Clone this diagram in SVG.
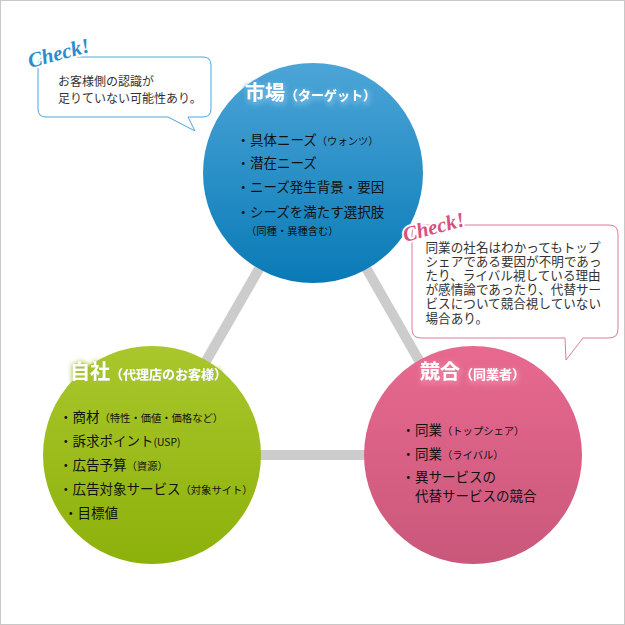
<svg xmlns="http://www.w3.org/2000/svg" width="625" height="625" viewBox="0 0 625 625">
<style>
.jp{font-family:"Noto Sans CJK JP","Noto Sans",sans-serif;}
.title{fill:#fff;font-weight:bold;}
.big{font-size:20px;}
.mid{font-size:13px;}
.item{fill:#111;font-size:13.5px;}
.sm{font-size:10.3px;}
.bub{fill:#333;}
.check{font-family:"Liberation Serif","DejaVu Serif",serif;font-style:italic;font-weight:bold;font-size:21px;stroke:#fff;stroke-width:4px;stroke-linejoin:round;paint-order:stroke;}
.conn{stroke:#cccccc;stroke-width:10;fill:none;}
</style>
<defs>
<linearGradient id="gBlue" x1="0" y1="0" x2="0" y2="1">
<stop offset="0" stop-color="#4ca5d7"/><stop offset="1" stop-color="#097ab6"/>
</linearGradient>
<linearGradient id="gGreen" x1="0" y1="0" x2="0" y2="1">
<stop offset="0" stop-color="#a9c72c"/><stop offset="1" stop-color="#8db10b"/>
</linearGradient>
<linearGradient id="gPink" x1="0" y1="0" x2="0" y2="1">
<stop offset="0" stop-color="#e8698f"/><stop offset="1" stop-color="#c9587b"/>
</linearGradient>
<filter id="glowB" filterUnits="userSpaceOnUse" x="0" y="0" width="625" height="625">
<feMorphology in="SourceAlpha" operator="dilate" radius="1.5" result="d"/>
<feGaussianBlur in="d" stdDeviation="2" result="b"/>
<feOffset in="b" dx="1" dy="1.5" result="o"/>
<feFlood flood-color="#5fb0de" flood-opacity="0.95"/>
<feComposite in2="o" operator="in" result="halo"/>
<feMerge><feMergeNode in="halo"/><feMergeNode in="SourceGraphic"/></feMerge>
</filter>
<filter id="glowG" filterUnits="userSpaceOnUse" x="0" y="0" width="625" height="625">
<feMorphology in="SourceAlpha" operator="dilate" radius="1.5" result="d"/>
<feGaussianBlur in="d" stdDeviation="2" result="b"/>
<feOffset in="b" dx="1" dy="1.5" result="o"/>
<feFlood flood-color="#a6c42a" flood-opacity="0.95"/>
<feComposite in2="o" operator="in" result="halo"/>
<feMerge><feMergeNode in="halo"/><feMergeNode in="SourceGraphic"/></feMerge>
</filter>
<filter id="glowP" filterUnits="userSpaceOnUse" x="0" y="0" width="625" height="625">
<feMorphology in="SourceAlpha" operator="dilate" radius="1.5" result="d"/>
<feGaussianBlur in="d" stdDeviation="2" result="b"/>
<feOffset in="b" dx="1" dy="1.5" result="o"/>
<feFlood flood-color="#ec7b9e" flood-opacity="0.95"/>
<feComposite in2="o" operator="in" result="halo"/>
<feMerge><feMergeNode in="halo"/><feMergeNode in="SourceGraphic"/></feMerge>
</filter>
</defs>
<rect x="0.5" y="0.5" width="624" height="624" fill="#fff" stroke="#c8c8c8" stroke-width="1"/>

<g id="connectors">
<line class="conn" x1="313" y1="175" x2="152" y2="455"/>
<line class="conn" x1="313" y1="175" x2="473" y2="455"/>
<line class="conn" x1="152" y1="455" x2="473" y2="455"/>
</g>

<g id="market">
<circle cx="313" cy="173" r="110" fill="url(#gBlue)"/>
<text class="jp title" filter="url(#glowB)" x="245" y="100"><tspan class="big">市場</tspan><tspan class="mid">（ターゲット）</tspan></text>
<text class="jp item" x="236.5" y="145">・具体ニーズ<tspan class="sm">（ウォンツ）</tspan></text>
<text class="jp item" x="236.5" y="168">・潜在ニーズ</text>
<text class="jp item" x="236.5" y="192">・ニーズ発生背景・要因</text>
<text class="jp item" x="236.5" y="217">・シーズを満たす選択肢</text>
<text class="jp item sm" x="246" y="235">（同種・異種含む）</text>
</g>

<g id="self">
<circle cx="152" cy="455" r="109" fill="url(#gGreen)"/>
<text class="jp title" filter="url(#glowG)" x="70" y="379"><tspan class="big">自社</tspan><tspan class="mid">（代理店のお客様）</tspan></text>
<text class="jp item" x="59" y="422">・商材<tspan class="sm">（特性・価値・価格など）</tspan></text>
<text class="jp item" x="59" y="446">・訴求ポイント<tspan class="sm">(USP)</tspan></text>
<text class="jp item" x="59" y="470">・広告予算<tspan class="sm">（資源）</tspan></text>
<text class="jp item" x="59" y="494">・広告対象サービス<tspan class="sm">（対象サイト）</tspan></text>
<text class="jp item" x="64" y="518">・目標値</text>
</g>

<g id="competitor">
<circle cx="473" cy="455" r="109" fill="url(#gPink)"/>
<text class="jp title" filter="url(#glowP)" x="420" y="379"><tspan class="big">競合</tspan><tspan class="mid">（同業者）</tspan></text>
<text class="jp item" x="401.5" y="435">・同業<tspan class="sm">（トップシェア）</tspan></text>
<text class="jp item" x="401.5" y="459">・同業<tspan class="sm">（ライバル）</tspan></text>
<text class="jp item" x="401.5" y="482">・異サービスの</text>
<text class="jp item" x="415" y="501">代替サービスの競合</text>
</g>

<g id="note-market">
<path d="M46,57 H203 Q211,57 211,65 V109 Q211,117 203,117 H188 L195,131 L168,117 H46 Q38,117 38,109 V65 Q38,57 46,57 Z" fill="#fff" stroke="#4da6d9" stroke-width="1"/>
<text class="check" fill="#2b8ccb" transform="rotate(-15 30 68)" x="30" y="68">Check!</text>
<text class="jp bub" font-size="12" x="58" y="86">お客様側の認識が</text>
<text class="jp bub" font-size="12" x="58" y="103">足りていない可能性あり。</text>
</g>

<g id="note-competitor">
<path d="M421,225 H609 Q618,225 618,234 V329 Q618,338 609,338 H583 L566,360 L565,338 H421 Q412,338 412,329 V234 Q412,225 421,225 Z" fill="#fff" stroke="#e27a9c" stroke-width="1"/>
<text class="check" fill="#d9507f" transform="rotate(-15 405 242)" x="405" y="242">Check!</text>
<text class="jp bub" font-size="12.6" x="425.5" y="251.5">同業の社名はわかってもトップ</text>
<text class="jp bub" font-size="12.6" x="425.5" y="265.7">シェアである要因が不明であっ</text>
<text class="jp bub" font-size="12.6" x="425.5" y="279.9">たり、ライバル視している理由</text>
<text class="jp bub" font-size="12.6" x="425.5" y="294.1">が感情論であったり、代替サー</text>
<text class="jp bub" font-size="12.6" x="425.5" y="308.3">ビスについて競合視していない</text>
<text class="jp bub" font-size="12.6" x="425.5" y="322.5">場合あり。</text>
</g>
</svg>
